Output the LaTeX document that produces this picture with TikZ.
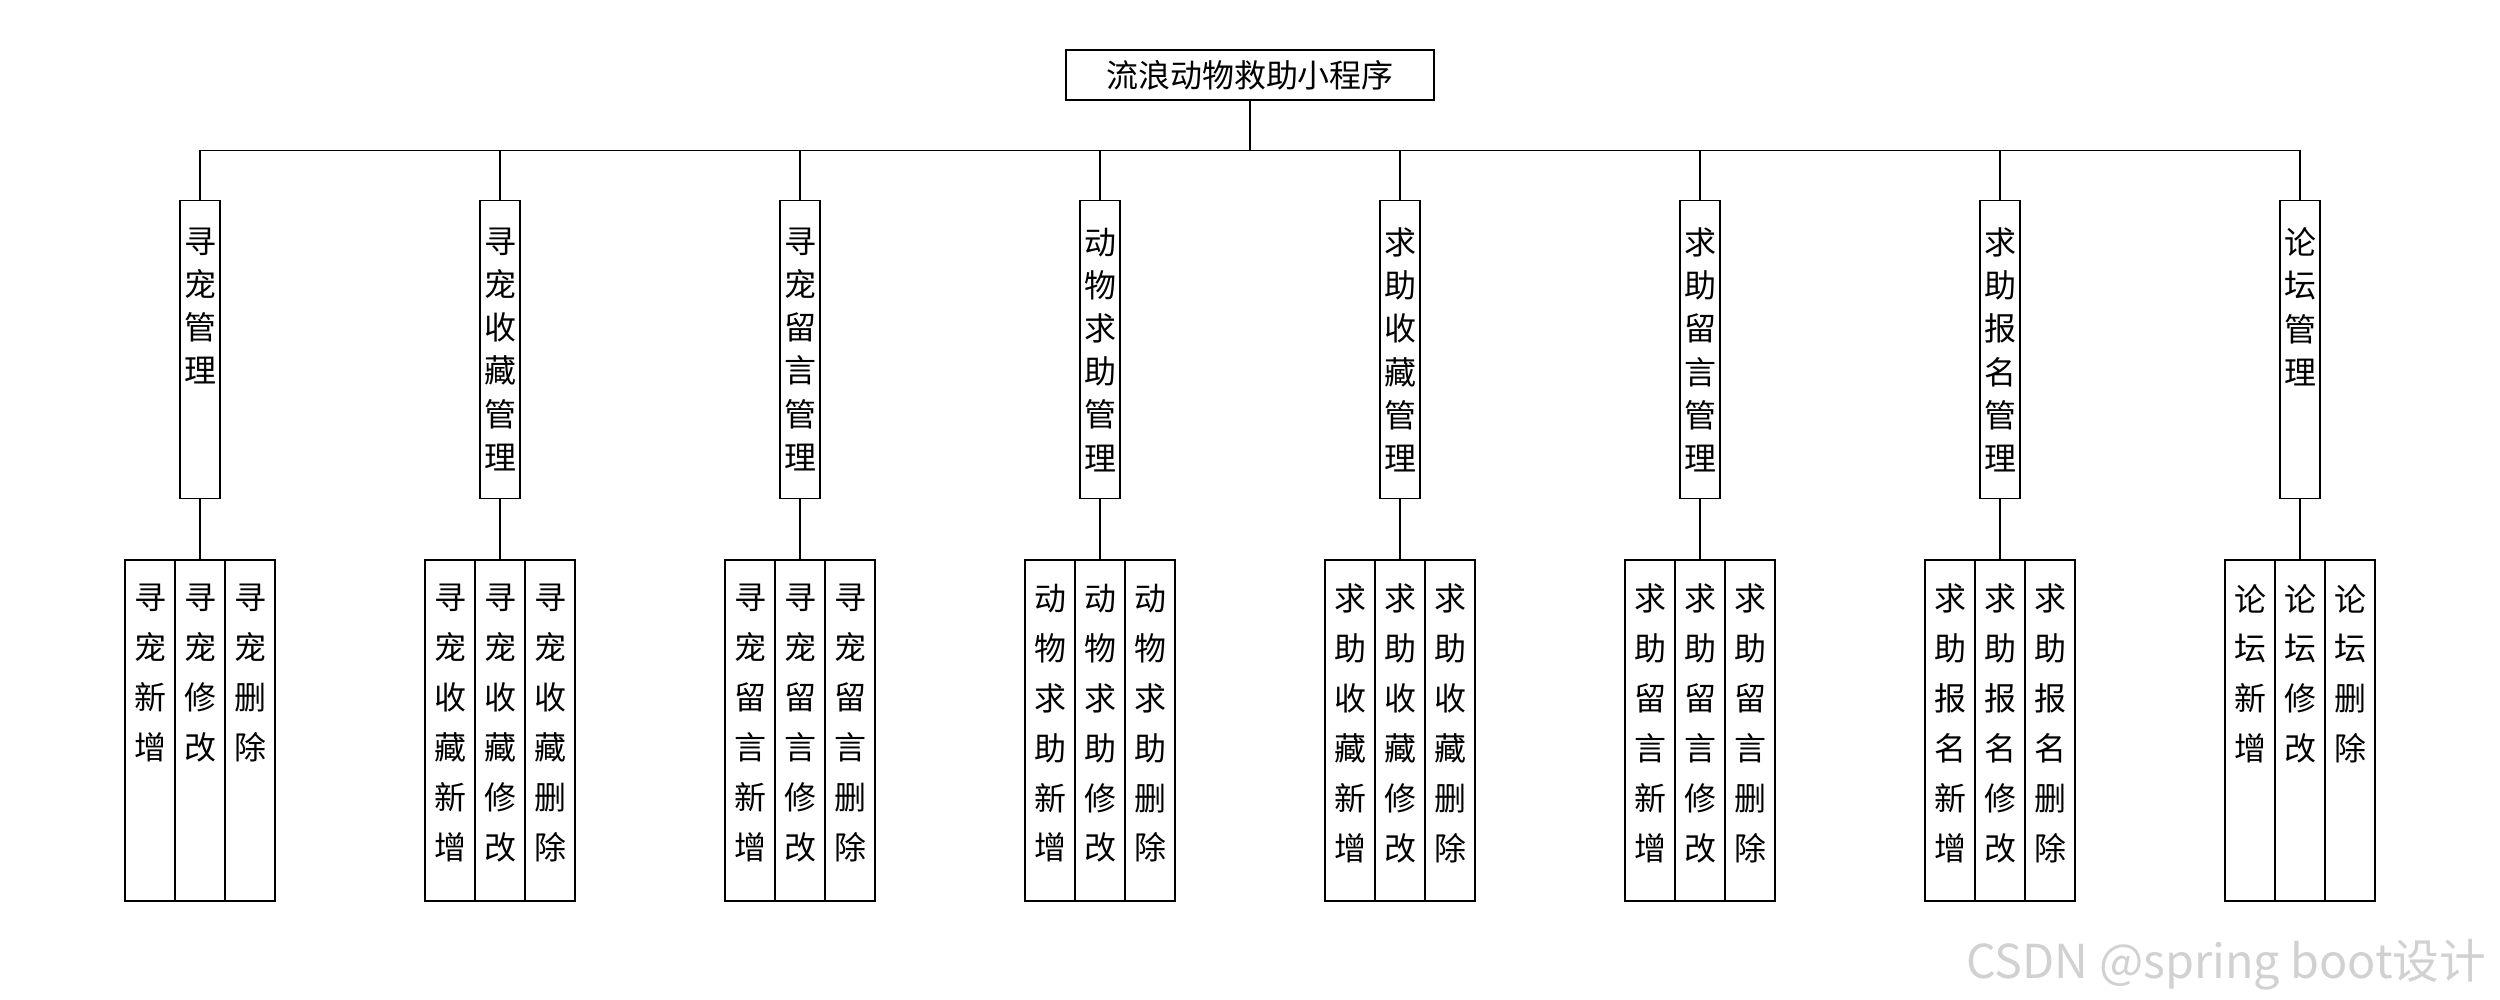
\documentclass[tikz,border=0pt]{standalone}
\usepackage{fontspec}
\setmainfont{Noto Sans CJK SC}
\usepackage{xcolor}
\usepackage{tikz}
\usetikzlibrary{calc,positioning}

% one character per line
\newcommand\vstack[1]{\edef\vtmp{#1}\expandafter\vstackA\vtmp\relax}
\def\vstackA#1#2\relax{#1\ifx\relax#2\relax\else\expandafter\vstackB\fi#2\relax}
\def\vstackB{\\\vstackA}

\begin{document}
\begin{tikzpicture}[
    box/.style={draw=black, line width=0.4pt, inner sep=0pt},
    vlabel/.style={anchor=north, inner sep=0pt, align=center}
  ]
  \useasboundingbox (0,0) rectangle (25,-10);
  \node[
    box,
    minimum width=3.68cm,
    minimum height=0.5cm,
    font=\fontsize{9.1}{11}\selectfont
  ] (root) at (12.5,-0.75) {流浪动物救助小程序};
  \coordinate (bar) at ($(root.south)+(0,-0.5)$);
  \draw (root.south) -- (bar);
  \foreach \stem [count=\i] in {寻宠,寻宠收藏,寻宠留言,动物求助,求助收藏,求助留言,求助报名,论坛} {
    % module
    \node[box, minimum width=0.4cm, minimum height=2.98cm, anchor=north]
      (m\i) at ({3*\i-1},-2) {};
    \node[vlabel, font=\fontsize{9.1}{12.3}\selectfont]
      (mt\i) at ($(m\i.north)+(0,-0.27)$) {\vstack{\stem 管理}};
    \draw (bar) -| (m\i.north);
    % operations
    \foreach \op/\k/\dx in {新增/1/-0.5,修改/2/0,删除/3/0.5} {
      \node[box, minimum width=0.5cm, minimum height=3.41cm, anchor=north]
        (l\i-\k) at ($(m\i.south)+(\dx,-0.6)$) {};
      \node[vlabel, font=\fontsize{9.1}{14.2}\selectfont]
        (lt\i-\k) at ($(l\i-\k.north)+(0,-0.24)$) {\vstack{\stem\op}};
    }
    \draw (m\i.south) -- (l\i-2.north);
  }
  \node[
    anchor=base east,
    inner sep=0pt,
    text=black!18,
    font=\fontsize{13.3}{15}\selectfont
  ] (mark) at (24.87,-9.78) {CSDN @spring boot设计};
\end{tikzpicture}
\end{document}
